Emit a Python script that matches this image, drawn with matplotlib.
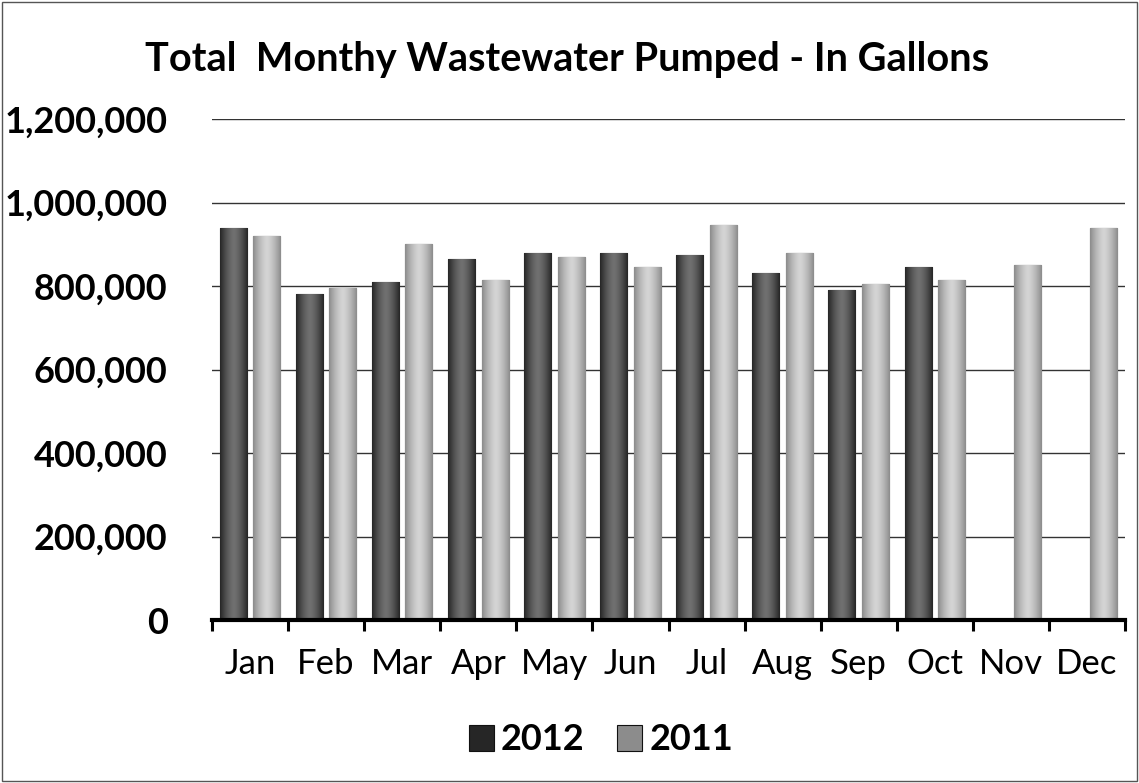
import matplotlib
matplotlib.use("Agg")
import matplotlib.pyplot as plt
import numpy as np
from matplotlib.patches import Rectangle
from matplotlib.ticker import FuncFormatter, FixedLocator

plt.rcParams["font.family"] = ["Lato", "DejaVu Sans"]

months = ["Jan", "Feb", "Mar", "Apr", "May", "Jun",
          "Jul", "Aug", "Sep", "Oct", "Nov", "Dec"]
# valores (galoes); 2012 so ate outubro
gal_2012 = [940000, 780000, 810000, 865000, 880000, 878000,
            875000, 830000, 790000, 845000, np.nan, np.nan]
gal_2011 = [920000, 795000, 900000, 815000, 870000, 845000,
            945000, 878000, 805000, 815000, 850000, 940000]
series_names = ["2012", "2011"]
yticks = [0, 200000, 400000, 600000, 800000, 1000000, 1200000]

colors = ["#262626", "#8c8c8c"]
light = ["#707070", "#d4d4d4"]

fig = plt.figure(figsize=(11.39, 7.83), dpi=100)
ax = fig.add_axes([212 / 1139, 1 - 620 / 783, (1125 - 212) / 1139, (620 - 119) / 783])

x = np.arange(len(months))
w = 0.355
offsets = [-0.22, 0.22]

# gradiente horizontal para imitar o aspecto cilindrico das barras
grad = np.abs(np.linspace(-1, 1, 64)) ** 1.5
grad = grad.reshape(1, -1)

handles = []
for k, vals in enumerate([gal_2012, gal_2011]):
    bars = ax.bar(x + offsets[k], vals, width=w, color=colors[k],
                  edgecolor="#111111", linewidth=0.8, zorder=3,
                  label=series_names[k])
    handles.append(bars)
    cmap = matplotlib.colors.LinearSegmentedColormap.from_list(
        "g%d" % k, [light[k], colors[k]])
    for b in bars:
        h = b.get_height()
        if not np.isfinite(h):
            continue
        im = ax.imshow(grad, cmap=cmap, aspect="auto", zorder=3.5,
                       extent=[b.get_x(), b.get_x() + b.get_width(), 0, h])
        im.set_clip_path(b)

ax.set_xlim(-0.5, 11.5)
ax.set_ylim(0, 1200000)
ax.set_yticks(yticks)
ax.yaxis.set_major_formatter(FuncFormatter(lambda v, p: f"{int(v):,}"))
ax.grid(axis="y", color="#333333", linewidth=1.0, zorder=0)
ax.set_axisbelow(True)

ax.set_xticks(x)
ax.set_xticklabels(months, fontsize=25)
ax.xaxis.set_minor_locator(FixedLocator(np.arange(-0.5, 12, 1.0)))
ax.tick_params(axis="x", which="major", length=0, pad=20)
ax.tick_params(axis="x", which="minor", length=8, width=2.2, direction="out", color="black")
ax.tick_params(axis="y", length=0, pad=32, labelsize=26)
for lab in ax.get_yticklabels():
    lab.set_fontweight("bold")

for s in ["left", "right", "top"]:
    ax.spines[s].set_visible(False)
ax.spines["bottom"].set_linewidth(3)
ax.spines["bottom"].set_zorder(5)

fig.text(567 / 1139, 1 - 60 / 783, "Total  Monthy Wastewater Pumped - In Gallons",
         ha="center", va="center", fontsize=28.5, fontweight="bold")

leg = fig.legend(handles, series_names, loc="center",
                 bbox_to_anchor=(601 / 1139, 1 - 740 / 783), ncol=2,
                 frameon=False, prop={"size": 26, "weight": "bold"},
                 handlelength=0.7, handleheight=0.7, handletextpad=0.2,
                 columnspacing=0.9)

fig.patches.append(Rectangle((0.002, 0.002), 0.996, 0.996, transform=fig.transFigure,
                             fill=False, edgecolor="#555555", linewidth=1.0))

fig.savefig("out.png", dpi=100)
